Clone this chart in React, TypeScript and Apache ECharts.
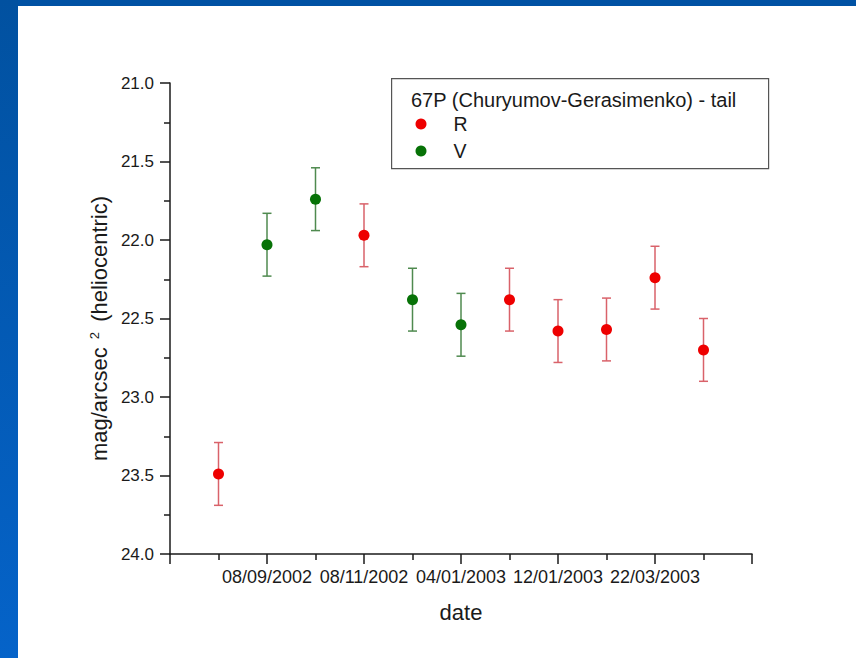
import React, { useEffect, useRef } from "react";
import * as echarts from "echarts";

// ---- data ----
const tickPositions = [2, 4, 6, 8, 10];
const tickLabels = ["08/09/2002", "08/11/2002", "04/01/2003", "12/01/2003", "22/03/2003"];

const rX = [1, 4, 7, 8, 9, 10, 11];
const rY = [23.49, 21.97, 22.38, 22.58, 22.57, 22.24, 22.7];
const rErr = [0.2, 0.2, 0.2, 0.2, 0.2, 0.2, 0.2];

const vX = [2, 3, 5, 6];
const vY = [22.03, 21.74, 22.38, 22.54];
const vErr = [0.2, 0.2, 0.2, 0.2];

const legendTitle = "67P (Churyumov-Gerasimenko) - tail";
const FONT = "Liberation Sans, Arial, Helvetica, sans-serif";

const RED = "#ee0000";
const GREEN = "#077207";
const RED_BAR = "#d9626a";
const GREEN_BAR = "#4f8a4f";

function errRender(color: string) {
  return (params: any, api: any) => {
    const x = api.value(0);
    const y = api.value(1);
    const e = api.value(2);
    const a = api.coord([x, y - e]);
    const b = api.coord([x, y + e]);
    const hw = 4.5;
    const style = { stroke: color, lineWidth: 1.5 };
    return {
      type: "group",
      children: [
        { type: "line", shape: { x1: a[0], y1: a[1], x2: b[0], y2: b[1] }, style },
        { type: "line", shape: { x1: a[0] - hw, y1: a[1], x2: a[0] + hw, y2: a[1] }, style },
        { type: "line", shape: { x1: b[0] - hw, y1: b[1], x2: b[0] + hw, y2: b[1] }, style },
      ],
    };
  };
}

export default function App() {
  const ref = useRef<HTMLDivElement>(null);
  useEffect(() => {
    if (!ref.current) return;
    const chart = echarts.init(ref.current, undefined, { renderer: "svg" });
    const rData = rX.map((x, i) => [x, rY[i]]);
    const vData = vX.map((x, i) => [x, vY[i]]);
    const rErrData = rX.map((x, i) => [x, rY[i], rErr[i]]);
    const vErrData = vX.map((x, i) => [x, vY[i], vErr[i]]);
    chart.setOption({
      animation: false,
      backgroundColor: "#ffffff",
      textStyle: { fontFamily: FONT },
      grid: { left: 170, right: 104, top: 83, bottom: 104, containLabel: false },
      xAxis: {
        type: "value",
        min: 0,
        max: 12,
        interval: 2,
        name: "date",
        nameLocation: "middle",
        nameGap: 47,
        nameTextStyle: { fontSize: 22, color: "#1a1a1a", fontFamily: FONT },
        axisLine: { show: true, onZero: false, lineStyle: { color: "#1a1a1a", width: 1.5 } },
        axisTick: { show: true, length: 10, lineStyle: { color: "#1a1a1a", width: 1.5 } },
        minorTick: { show: true, splitNumber: 2, length: 6, lineStyle: { color: "#1a1a1a", width: 1.5 } },
        splitLine: { show: false },
        minorSplitLine: { show: false },
        axisLabel: {
          margin: 14,
          fontSize: 18,
          color: "#1a1a1a",
          fontFamily: FONT,
          formatter: (v: number) => {
            const i = tickPositions.indexOf(Math.round(v));
            return i >= 0 ? tickLabels[i] : "";
          },
        },
      },
      yAxis: {
        type: "value",
        inverse: true,
        min: 21,
        max: 24,
        interval: 0.5,
        name: "mag/arcsec {sup|2} (heliocentric)",
        nameLocation: "middle",
        nameGap: 57,
        nameRotate: 90,
        nameTextStyle: {
          fontSize: 22,
          color: "#1a1a1a",
          fontFamily: FONT,
          padding: [0, 20, 0, 0],
          rich: {
            sup: { fontSize: 13, verticalAlign: "top", color: "#1a1a1a", fontFamily: FONT, padding: [0, 4, 0, 2] },
          },
        },
        axisLine: { show: true, onZero: false, lineStyle: { color: "#1a1a1a", width: 1.5 } },
        axisTick: { show: true, length: 10, lineStyle: { color: "#1a1a1a", width: 1.5 } },
        minorTick: { show: true, splitNumber: 2, length: 6, lineStyle: { color: "#1a1a1a", width: 1.5 } },
        splitLine: { show: false },
        minorSplitLine: { show: false },
        axisLabel: {
          margin: 16,
          fontSize: 17,
          color: "#1a1a1a",
          fontFamily: FONT,
          formatter: (v: number) => v.toFixed(1),
        },
      },
      legend: {
        orient: "vertical",
        left: 415.5,
        top: 114,
        padding: 0,
        itemGap: 7,
        itemWidth: 11,
        itemHeight: 11,
        icon: "circle",
        data: [
          { name: "R", itemStyle: { color: RED } },
          { name: "V", itemStyle: { color: GREEN } },
        ],
        textStyle: { fontSize: 19.5, color: "#1a1a1a", fontFamily: FONT, padding: [0, 0, 0, 22] },
      },
      graphic: [
        {
          type: "rect",
          left: 0,
          top: 0,
          shape: { width: 856, height: 6 },
          style: { fill: "#0052a4" },
          z: 100,
        },
        {
          type: "rect",
          left: 0,
          top: 0,
          shape: { width: 18, height: 658 },
          style: {
            fill: new echarts.graphic.LinearGradient(0, 0, 0, 1, [
              { offset: 0, color: "#0151a0" },
              { offset: 1, color: "#0563c9" },
            ]),
          },
          z: 100,
        },
        {
          type: "rect",
          left: 391,
          top: 78,
          shape: { width: 377, height: 90 },
          style: { fill: "#ffffff", stroke: "#555555", lineWidth: 1.2 },
          z: 1,
        },
        {
          type: "text",
          left: 411,
          top: 90,
          style: { text: legendTitle, fontSize: 20, fill: "#1a1a1a", fontFamily: FONT },
          z: 2,
        },
      ],
      series: [
        {
          name: "R error",
          type: "custom",
          renderItem: errRender(RED_BAR),
          data: rErrData,
          z: 3,
          silent: true,
        },
        {
          name: "V error",
          type: "custom",
          renderItem: errRender(GREEN_BAR),
          data: vErrData,
          z: 3,
          silent: true,
        },
        {
          name: "R",
          type: "scatter",
          data: rData,
          symbolSize: 11,
          itemStyle: { color: RED, opacity: 1 },
          z: 5,
        },
        {
          name: "V",
          type: "scatter",
          data: vData,
          symbolSize: 11,
          itemStyle: { color: GREEN, opacity: 1 },
          z: 5,
        },
      ],
    });
    return () => chart.dispose();
  }, []);
  return (
    <div style={{ position: "absolute", left: 0, top: 0, width: 856, height: 658 }}>
      <div ref={ref} style={{ width: 856, height: 658 }} />
    </div>
  );
}
